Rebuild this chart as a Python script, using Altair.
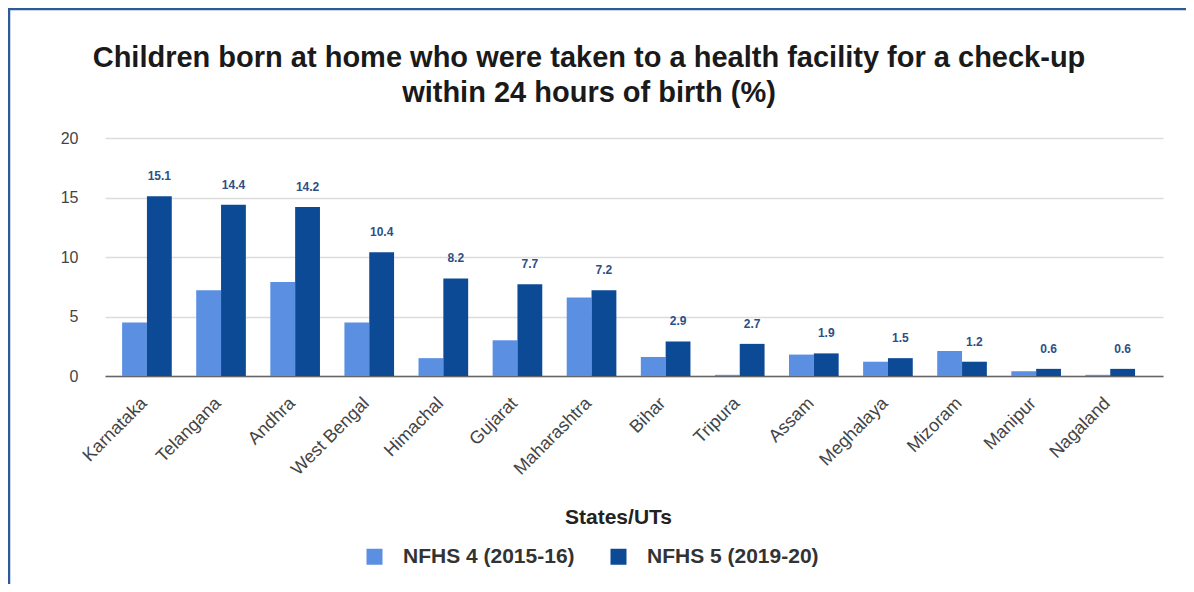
import altair as alt
import pandas as pd

states = ["Karnataka", "Telangana", "Andhra", "West Bengal", "Himachal", "Gujarat",
          "Maharashtra", "Bihar", "Tripura", "Assam", "Meghalaya", "Mizoram",
          "Manipur", "Nagaland"]
nfhs4 = [4.5, 7.2, 7.9, 4.5, 1.5, 3.0, 6.6, 1.6, 0.1, 1.8, 1.2, 2.1, 0.4, 0.1]
nfhs5 = [15.1, 14.4, 14.2, 10.4, 8.2, 7.7, 7.2, 2.9, 2.7, 1.9, 1.5, 1.2, 0.6, 0.6]
series = ["NFHS 4 (2015-16)", "NFHS 5 (2019-20)"]
colors = ["#5b8fe1", "#0d4a96"]
y_ticks = [0, 5, 10, 15, 20]

rows = []
for s, a, b in zip(states, nfhs4, nfhs5):
    rows.append({"state": s, "series": series[0], "value": a})
    rows.append({"state": s, "series": series[1], "value": b})
df = pd.DataFrame(rows)

FONT = "Liberation Sans"
W, H = 1058, 238
PAD = {"left": 97, "top": 130, "right": 1178 - 97 - W, "bottom": 576 - 130 - H}

x_enc = alt.X("state:N", sort=states,
              scale=alt.Scale(paddingInner=0.33, paddingOuter=0.304, align=0.38),
              axis=alt.Axis(title="States/UTs", titleFont=FONT, titleFontSize=21,
                            titleFontWeight="bold", titleColor="#222",
                            titleY=141, titleX=513, titleBaseline="middle",
                            titleAlign="center", labelAngle=-45, labelFont=FONT,
                            labelFontSize=18, labelColor="#444", labelPadding=18,
                            labelOffset=-9, ticks=False, domainColor="#666",
                            domainWidth=1.5, grid=False))
xoff = alt.XOffset("series:N", sort=series, scale=alt.Scale(domain=series))
y_enc = alt.Y("value:Q", scale=alt.Scale(domain=[0, 20]),
              axis=alt.Axis(values=y_ticks, title=None, domain=False, ticks=False,
                            labelFont=FONT, labelFontSize=16, labelColor="#444",
                            labelPadding=27, gridColor="#dcdcdc", gridWidth=1.5))

bars = alt.Chart(df).mark_bar().encode(
    x=x_enc, xOffset=xoff, y=y_enc,
    color=alt.Color("series:N", sort=series,
                    scale=alt.Scale(domain=series, range=colors),
                    legend=alt.Legend(title=None, orient="none", legendX=259,
                                      legendY=408, direction="horizontal",
                                      symbolType="square", symbolSize=256,
                                      symbolStrokeWidth=0, labelFont=FONT,
                                      labelFontSize=21, labelFontWeight="bold",
                                      labelColor="#333", columnPadding=33,
                                      labelOffset=18, labelLimit=400)),
)

labels = alt.Chart(df).transform_filter(
    alt.datum.series == series[1]
).mark_text(dy=-20, font=FONT, fontSize=12, fontWeight="bold", color="#2d4f86").encode(
    x=alt.X("state:N", sort=states), xOffset=xoff, y=alt.Y("value:Q"),
    text=alt.Text("value:Q", format=".1f"),
)

frame = alt.Chart(pd.DataFrame({"k": [0]})).mark_rect(
    fillOpacity=0, stroke="#2f5a9a", strokeWidth=2.5
).encode(x=alt.value(-PAD["left"] + 1), x2=alt.value(W + PAD["right"] + 20),
         y=alt.value(-PAD["top"] + 1), y2=alt.value(H + PAD["bottom"] + 20))

chart = alt.layer(bars, labels, frame).properties(
    width=W, height=H,
    autosize=alt.AutoSizeParams(type="none"),
    padding=PAD,
    title=alt.TitleParams(
        text=["Children born at home who were taken to a health facility for a check-up",
              "within 24 hours of birth (%)"],
        font=FONT, fontSize=29, fontWeight="bold", color="#1a1a1a",
        anchor="middle", dx=-45, dy=122, offset=22, lineHeight=35),
).configure_view(stroke=None)

chart.save("out.html", embed_options={"renderer": "svg", "actions": False})
